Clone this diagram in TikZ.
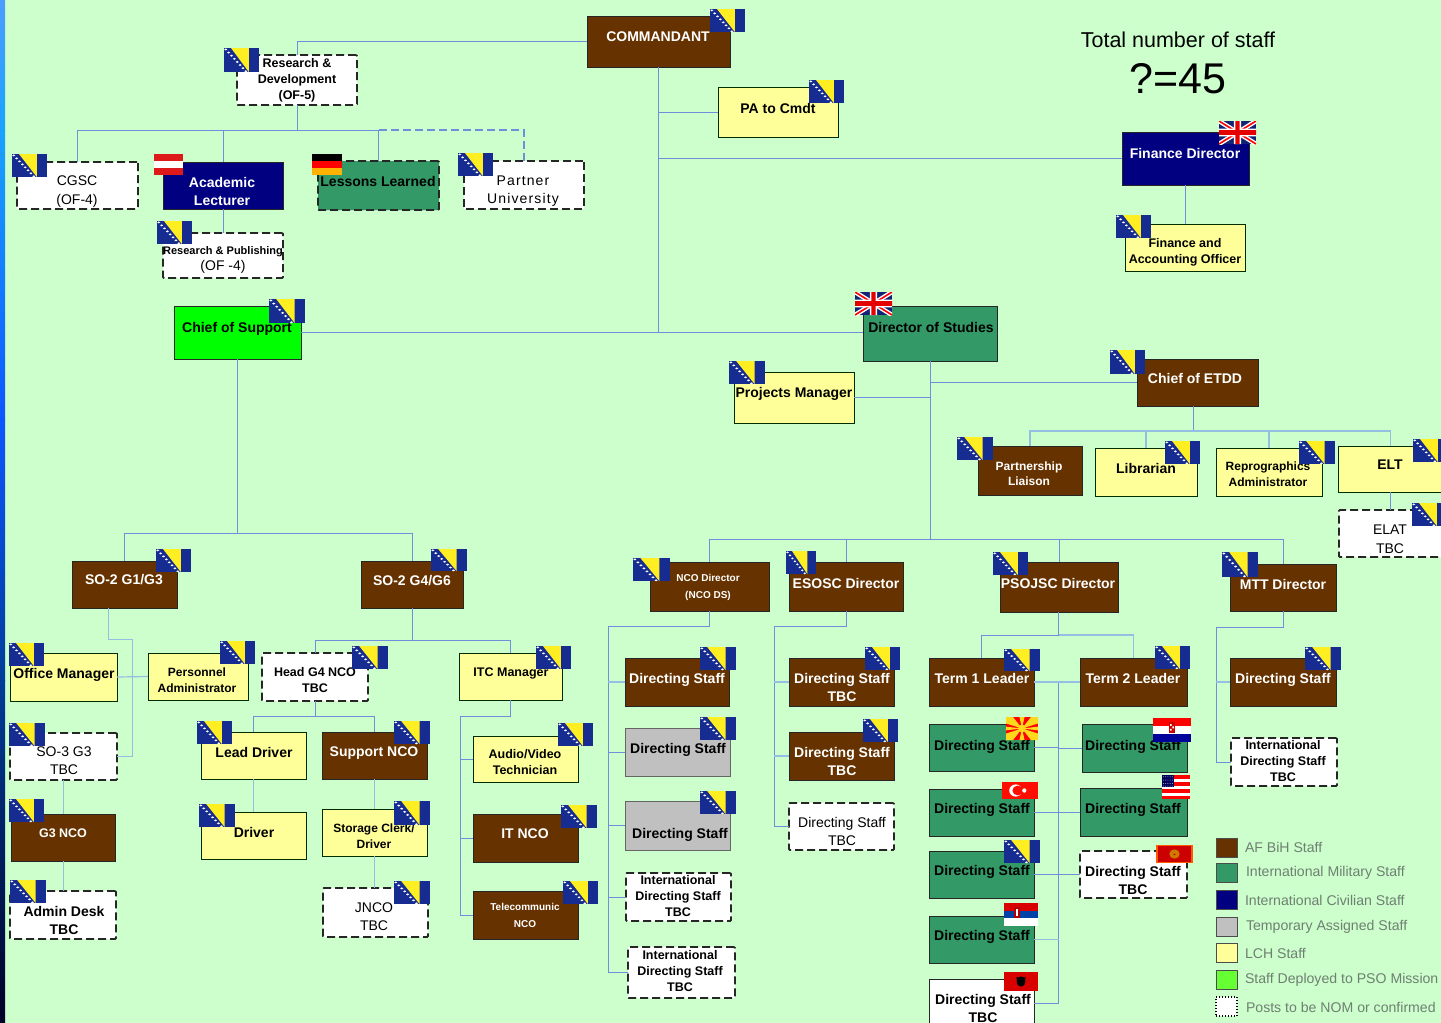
\documentclass[tikz,border=0pt]{standalone}
\usepackage{fontspec}
\setmainfont{Liberation Sans}
\usetikzlibrary{calc}
\definecolor{bgc}{HTML}{CCFFCC}
\definecolor{brownc}{HTML}{663300}
\definecolor{greenc}{HTML}{339966}
\definecolor{navyc}{HTML}{000080}
\definecolor{yellowc}{HTML}{FFFF99}
\definecolor{greyc}{HTML}{C0C0C0}
\definecolor{limec}{HTML}{00FF00}
\definecolor{linec}{HTML}{6E8FDC}
\definecolor{palelinec}{HTML}{94BFE2}
\definecolor{bablue}{HTML}{172C90}
\definecolor{bayellow}{HTML}{FFEE22}
\definecolor{legtext}{HTML}{6F7F72}
\tikzset{
 boxbase/.style={rectangle,inner sep=0pt,outer sep=0pt,draw=black!85,line width=1pt},
 brownbox/.style={boxbase,fill=brownc},
 greenbox/.style={boxbase,fill=greenc},
 navybox/.style={boxbase,fill=navyc},
 yellowbox/.style={boxbase,fill=yellowc,draw=black!70!green!60!black},
 greybox/.style={boxbase,fill=greyc,draw=black!60},
 limebox/.style={boxbase,fill=limec},
 whitebox/.style={boxbase,fill=white},
 dashbox/.style={boxbase,fill=white,line width=1.8pt,dash pattern=on 8pt off 4pt,rounded corners=1pt},
 greendash/.style={dashbox,fill=greenc},
 conn/.style={draw=linec,line width=1pt},
 paleconn/.style={draw=palelinec,line width=1.2pt},
 dashconn/.style={draw=linec,line width=1.2pt,dash pattern=on 8pt off 4pt},
 lab/.style={inner sep=0pt,outer sep=0pt,align=center,yshift=-1.5pt,font=\fontsize{14}{18}\selectfont\bfseries,
  execute at begin node={\vphantom{Ag}},execute at end node={\vphantom{Ag}}},
 labs/.style={lab,font=\fontsize{12.5}{16}\selectfont\bfseries},
 labt/.style={lab,font=\fontsize{10.5}{17}\selectfont\bfseries},
 labn/.style={lab,font=\fontsize{14}{18}\selectfont},
 legend/.style={inner sep=0pt,outer sep=0pt,anchor=west,text=legtext,font=\fontsize{14.1}{16}\selectfont},
 swatch/.style={rectangle,inner sep=0pt,outer sep=0pt,minimum width=21pt,minimum height=19pt,line width=1pt,draw=black!70},
}
\newcommand\bx[6]{\pgfmathsetmacro\bcx{(#2+#4)/2}\pgfmathsetmacro\bcy{(#3+#5)/2}%
 \pgfmathsetmacro\bw{#4-#2}\pgfmathsetmacro\bh{#5-#3}%
 \node[#6,minimum width=\bw pt,minimum height=\bh pt] (#1) at (\bcx,\bcy) {};}
\newcommand\tx[5]{\node[#4] (#1-t) at (#2,#3) {#5};}
\newcommand\flag[5]{\pgfmathsetmacro\fw{(#4-#2)/100}\pgfmathsetmacro\fh{(#5-#3)/100}%
 \begin{scope}[shift={(#2,#3)},xscale=\fw,yscale=\fh]\clip (0,0) rectangle (100,100);#1\end{scope}}
\newcommand\fBA{\fill[bablue] (0,0) rectangle (100,100);
 \fill[bayellow] (20,0) -- (71,0) -- (71,100) -- cycle;
 \foreach \q in {0,...,7}{\fill[white] ({5+\q*8.2},{6+\q*13}) circle[radius=4.3];}}
\newcommand\fUK{\fill[bablue!80!black] (0,0) rectangle (100,100);
 \draw[white,line width=4.5pt] (0,0) -- (100,100) (100,0) -- (0,100);
 \draw[red,line width=1.6pt] (0,0) -- (100,100) (100,0) -- (0,100);
 \fill[white] (40,0) rectangle (60,100) (0,33) rectangle (100,67);
 \fill[red!90!black] (44,0) rectangle (56,100) (0,40) rectangle (100,60);}
\newcommand\fAT{\fill[red!85!black!90] (0,0) rectangle (100,100);\fill[white] (0,33) rectangle (100,67);}
\newcommand\fDE{\fill[black] (0,0) rectangle (100,33.4);\fill[red] (0,33.4) rectangle (100,66.7);\fill[orange!60!yellow] (0,66.7) rectangle (100,100);}
\newcommand\fMK{\fill[red] (0,0) rectangle (100,100);
 \fill[bayellow!80!orange] (0,0) -- (22,0) -- (50,50) -- (0,28) -- cycle
  (100,0) -- (78,0) -- (50,50) -- (100,28) -- cycle
  (0,100) -- (22,100) -- (50,50) -- (0,72) -- cycle
  (100,100) -- (78,100) -- (50,50) -- (100,72) -- cycle
  (42,0) -- (58,0) -- (50,50) -- cycle (42,100) -- (58,100) -- (50,50) -- cycle
  (0,42) -- (0,58) -- (50,50) -- cycle (100,42) -- (100,58) -- (50,50) -- cycle;
 \fill[bayellow!80!orange] (50,50) ellipse[x radius=12,y radius=17];}
\newcommand\fHR{\fill[red] (0,0) rectangle (100,33);\fill[white] (0,33) rectangle (100,67);\fill[navyc!80!blue] (0,67) rectangle (100,100);
 \fill[red!80!black] (42,18) rectangle (58,62);\fill[white] (45,25) rectangle (49,33) (51,35) rectangle (55,43) (45,45) rectangle (49,53);}
\newcommand\fTR{\fill[red!90!orange] (0,0) rectangle (100,100);
 \fill[white] (38,50) ellipse[x radius=18,y radius=36];\fill[red!90!orange] (44,50) ellipse[x radius=15,y radius=29];\fill[white] (62,50) ellipse[x radius=6,y radius=13];}
\newcommand\fUS{\fill[white] (0,0) rectangle (100,100);
 \foreach \q in {0,2,4,6}{\fill[red] (0,{\q*15.4}) rectangle (100,{(\q+1)*15.4});}
 \fill[navyc!70!black] (0,0) rectangle (42,54);
 \foreach \a in {5,13,...,37}{\foreach \b in {8,22,36,48}{\fill[white] (\a,\b) circle[radius=1.6];}}}
\newcommand\fME{\fill[orange!70!red] (0,0) rectangle (100,100);\fill[red!80!black] (5,7) rectangle (95,93);
 \fill[orange!80!yellow!80!black] (50,50) ellipse[x radius=14,y radius=26];\fill[red!80!black] (50,52) circle[radius=4];}
\newcommand\fRS{\fill[red!85!black] (0,0) rectangle (100,33);\fill[blue!60!cyan!65!black] (0,33) rectangle (100,67);\fill[white] (0,67) rectangle (100,100);
 \fill[red!70!black] (30,18) rectangle (46,66);\fill[white] (35,28) rectangle (41,56);}
\newcommand\fAL{\fill[red!85!black] (0,0) rectangle (100,100);
 \fill[black] (50,50) ellipse[x radius=13,y radius=27];\fill[black] (36,28) -- (64,28) -- (58,66) -- (42,66) -- cycle;}
\begin{document}
\begin{tikzpicture}[x=1pt,y=-1pt]
\useasboundingbox (0,0) rectangle (1441,1023);
\clip (0,0) rectangle (1441,1023);
\fill[bgc] (0,0) rectangle (1441,1023);
% left strip
\shade[top color=blue!55!cyan!70!white,bottom color=cyan!60!blue!90] (0,0) rectangle (5,130);
\shade[top color=cyan!60!blue!90,bottom color=blue!70!cyan!95] (0,130) rectangle (5,420);
\shade[top color=blue!70!cyan!95,bottom color=blue!60!cyan!60!black] (0,420) rectangle (5,680);
\shade[top color=blue!60!cyan!60!black,bottom color=navyc!30!black] (0,680) rectangle (5,1023);
% boxes
\bx{cmd}{587}{16}{730}{67}{brownbox}
\bx{rd}{237}{55}{357}{105}{dashbox}
\bx{pa}{718}{87}{838}{137}{yellowbox}
\bx{fd}{1122}{132}{1249}{185}{navybox}
\bx{fa}{1125}{224}{1245}{271}{yellowbox}
\bx{cgsc}{17}{162}{138}{209}{dashbox}
\bx{acad}{163}{162}{283}{209}{navybox}
\bx{ll}{318}{161}{439}{210}{greendash}
\bx{partner}{464}{161}{584}{209}{dashbox}
\bx{rp}{163}{233}{283}{278}{dashbox}
\bx{cos}{174}{306}{301}{359}{limebox}
\bx{dos}{863}{306}{997}{361}{greenbox}
\bx{proj}{734}{372}{854}{423}{yellowbox}
\bx{etdd}{1137}{359}{1258}{406}{brownbox}
\bx{pl}{978}{446}{1082}{495}{brownbox}
\bx{lib}{1095}{448}{1197}{496}{yellowbox}
\bx{rep}{1216}{448}{1322}{496}{yellowbox}
\bx{elt}{1338}{446}{1443}{492}{yellowbox}
\bx{elat}{1339}{510}{1443}{557}{dashbox}
\bx{gone}{72}{561}{177}{608}{brownbox}
\bx{gfour}{361}{561}{463}{608}{brownbox}
\bx{ncod}{650}{562}{769}{611}{brownbox}
\bx{esosc}{789}{562}{903}{611}{brownbox}
\bx{psojsc}{1000}{562}{1118}{612}{brownbox}
\bx{mtt}{1230}{564}{1336}{611}{brownbox}
\bx{om}{10}{653}{117}{701}{yellowbox}
\bx{pers}{148}{653}{248}{700}{yellowbox}
\bx{head}{262}{653}{368}{701}{dashbox}
\bx{itc}{459}{653}{562}{700}{yellowbox}
\bx{sothree}{10}{733}{117}{780}{dashbox}
\bx{gthree}{11}{814}{115}{861}{brownbox}
\bx{admin}{10}{891}{116}{939}{dashbox}
\bx{lead}{201}{732}{306}{779}{yellowbox}
\bx{sup}{322}{732}{427}{779}{brownbox}
\bx{drv}{201}{812}{306}{859}{yellowbox}
\bx{stor}{322}{809}{427}{856}{yellowbox}
\bx{jnco}{323}{888}{428}{937}{dashbox}
\bx{av}{473}{736}{578}{782}{yellowbox}
\bx{itn}{473}{814}{578}{862}{brownbox}
\bx{tel}{473}{891}{578}{939}{brownbox}
\bx{na}{625}{658}{729}{706}{brownbox}
\bx{nb}{625}{728}{730}{776}{greybox}
\bx{nc}{625}{801}{730}{850}{greybox}
\bx{nd}{626}{873}{731}{921}{dashbox}
\bx{ne}{628}{947}{735}{998}{dashbox}
\bx{ea}{789}{658}{894}{706}{brownbox}
\bx{eb}{789}{732}{894}{780}{brownbox}
\bx{ec}{789}{803}{894}{850}{dashbox}
\bx{tone}{929}{658}{1034}{706}{brownbox}
\bx{ttwo}{1080}{658}{1187}{706}{brownbox}
\bx{mk}{929}{724}{1034}{771}{greenbox}
\bx{hr}{1082}{724}{1187}{772}{greenbox}
\bx{tr}{929}{789}{1034}{836}{greenbox}
\bx{us}{1080}{788}{1187}{836}{greenbox}
\bx{ba}{929}{851}{1034}{898}{greenbox}
\bx{me}{1080}{851}{1187}{898}{dashbox}
\bx{rs}{929}{916}{1034}{963}{greenbox}
\bx{al}{929}{979}{1034}{1035}{whitebox}
\bx{ma}{1230}{658}{1336}{706}{brownbox}
\bx{mb}{1231}{738}{1337}{786}{dashbox}
% junctions
\coordinate (rdbus) at (297,130);
\coordinate (cmdtrunk) at (658.5,333);
\coordinate (cosbus) at (237.5,533);
\coordinate (etddbus) at (1193.5,431);
\coordinate (dosbus) at (930,539);
\coordinate (gonebus) at (132,639);
\coordinate (gfourbus) at (412,640);
\coordinate (headbus) at (315,716.5);
\coordinate (itcbus) at (460,716.5);
\coordinate (ncobus) at (608,626.5);
\coordinate (esbus) at (774,626.5);
\coordinate (psbus) at (1058.5,635);
\coordinate (pstop) at (1058.5,682);
\coordinate (psend) at (1058.5,1003);
\coordinate (mbus) at (1216,627);
% connectors
\draw[conn] (cmd.west) -| (rd.north);
\draw[conn] (rd.south) -- (rdbus);
\draw[conn] (rdbus) -| (cgsc.north);
\draw[conn] (rdbus) -| (acad.north);
\draw[conn] (rdbus) -| (ll.north);
\draw[dashconn] (ll.north |- rdbus) -| (partner.north);
\draw[conn] (acad.south) -- (rp.north);
\draw[conn] (cmd.south) -- (cmdtrunk);
\draw[conn] (pa.west) -- (pa.west -| cmdtrunk);
\draw[conn] (fd.west) -- (fd.west -| cmdtrunk);
\draw[conn] (fa.north) -- (fa.north |- fd.south);
\draw[conn] (cos.east) -- (cos.east -| dos.west);
\draw[conn] (cos.south) -- (cosbus);
\draw[conn] (cosbus) -| (gone.north);
\draw[conn] (cosbus) -| (gfour.north);
\draw[conn] (dos.south) -- (dosbus);
\draw[conn] (etdd.west) -- (etdd.west -| dosbus);
\draw[conn] (proj.east) -- (proj.east -| dosbus);
\draw[conn] (dosbus) -| (ncod.north);
\draw[conn] (dosbus) -| (esosc.north);
\draw[conn] (dosbus) -| (psojsc.north);
\draw[conn] (dosbus) -| (mtt.north);
\draw[conn] (etddbus |- etdd.south) -- (etddbus);
\draw[paleconn] (etddbus) -| (pl.north);
\draw[paleconn] (etddbus) -| (lib.north);
\draw[paleconn] (etddbus) -| (rep.north);
\draw[paleconn] (etddbus) -| (elt.north);
\draw[conn] (elt.south) -- (elt.south |- elat.north);
% left column
\draw[paleconn,line width=1pt] ($(gone.south west)!.35!(gone.south east)$) |- (gonebus) |- (sothree.east);
\draw[paleconn] (om.east) -- (pers.west);
\draw[paleconn,line width=1pt] (sothree.south) -- (sothree.south |- gthree.north);
\draw[paleconn,line width=1pt] (gthree.south) -- (gthree.south |- admin.north);
\draw[conn] (gfour.south) -- (gfourbus);
\draw[conn] (gfourbus) -| (head.north);
\draw[conn] (gfourbus) -| (itc.north);
\draw[conn] (head.south) -- (headbus);
\draw[conn] (headbus) -| (lead.north);
\draw[conn] (headbus) -| (sup.north);
\draw[paleconn,line width=1pt] (lead.south) -- (drv.north);
\draw[paleconn,line width=1pt] (sup.south) -- (stor.north);
\draw[paleconn,line width=1pt] (stor.south) -- (stor.south |- jnco.north);
\draw[conn] (itc.south) |- (itcbus) |- (tel.west);
\draw[conn] (av.west) -- (av.west -| itcbus);
\draw[conn] (itn.west) -- (itn.west -| itcbus);
% NCO and ESOSC branches
\draw[conn] (ncod.south) |- (ncobus) |- (ne.west);
\draw[paleconn] (na.west) -- (na.west -| ncobus);
\draw[conn] (nb.west) -- (nb.west -| ncobus);
\draw[conn] (nc.west) -- (nc.west -| ncobus);
\draw[conn] (nd.west) -- (nd.west -| ncobus);
\draw[conn] (esosc.south) |- (esbus) |- (ec.west);
\draw[paleconn] (ea.west) -- (ea.west -| esbus);
\draw[paleconn] (eb.west) -- (eb.west -| esbus);
% PSOJSC
\draw[conn] (psbus |- psojsc.south) -- (psbus);
\draw[conn] (psbus) -| (tone.north);
\draw[paleconn] (psbus) -| (ttwo.north);
\draw[conn] (pstop) -- (psend);
\draw[paleconn] (tone.east) -- (tone.east -| ttwo.west);
\draw[conn] (mk.east) -- (mk.east -| psend);
\draw[conn] (hr.west) -- (hr.west -| psend);
\draw[conn] (tr.east) -- (tr.east -| us.west);
\draw[conn] (ba.east) -- (ba.east -| me.west);
\draw[paleconn] (rs.east) -- (rs.east -| psend);
\draw[conn] (psend -| al.east) -- (psend);
% MTT
\draw[conn] (mtt.south) |- (mbus);
\draw[conn] (mbus) |- (mb.west);
\draw[paleconn] (ma.west) -- (ma.west -| mbus);
% texts
\tx{cmd}{658}{37}{lab,text=white}{COMMANDANT}
\tx{rd}{297}{79}{labs}{Research \&\\Development\\(OF-5)}
\tx{pa}{778}{108}{lab}{PA to Cmdt}
\tx{fd}{1185}{153}{lab,text=white}{Finance Director}
\tx{fa}{1185}{250.5}{labs}{Finance and\\Accounting Officer}
\tx{cgsc}{77}{190.5}{labn,font=\fontsize{14}{19}\selectfont}{CGSC\\(OF-4)}
\tx{acad}{222}{191}{lab,text=white}{Academic\\Lecturer}
\tx{ll}{378}{181}{lab}{Lessons Learned}
\tx{partner}{523}{190}{labn,font=\fontsize{14}{18}\selectfont\addfontfeature{LetterSpace=8}}{Partner\\University}
\tx{rpa}{223}{250}{labt,font=\fontsize{11}{13}\selectfont\bfseries}{Research \& Publishing}
\tx{rpb}{223}{265.5}{labn}{(OF -4)}
\tx{cos}{237}{327}{lab}{Chief of Support}
\tx{dos}{931}{327}{lab}{Director of Studies}
\tx{proj}{794}{392}{lab}{Projects Manager}
\tx{etdd}{1195}{378}{lab,text=white}{Chief of ETDD}
\tx{pl}{1029}{473}{labs,text=white,font=\fontsize{12}{15}\selectfont\bfseries}{Partnership\\Liaison}
\tx{lib}{1146}{468}{lab}{Librarian}
\tx{rep}{1268}{474}{labs,font=\fontsize{12}{16}\selectfont\bfseries}{Reprographics\\Administrator}
\tx{elt}{1390}{465}{lab}{ELT}
\tx{elat}{1390}{539}{labn,font=\fontsize{14}{19}\selectfont}{ELAT\\TBC}
\tx{gone}{124}{579}{lab,text=white}{SO-2 G1/G3}
\tx{gfour}{412}{580}{lab,text=white}{SO-2 G4/G6}
\tx{ncod}{708}{585.5}{labt,text=white,font=\fontsize{10}{17}\selectfont\bfseries}{NCO Director\\(NCO DS)}
\tx{esosc}{846}{583}{lab,text=white}{ESOSC Director}
\tx{psojsc}{1058}{583}{lab,text=white}{PSOJSC Director}
\tx{mtt}{1283}{584}{lab,text=white}{MTT Director}
\tx{om}{64}{673}{lab}{Office Manager}
\tx{pers}{197}{680}{labs,font=\fontsize{12}{16}\selectfont\bfseries}{Personnel\\Administrator}
\tx{head}{315}{680}{labs}{Head G4 NCO\\TBC}
\tx{itc}{511}{672}{labs}{ITC Manager}
\tx{sothree}{64}{761}{labn}{SO-3 G3\\TBC}
\tx{gthree}{63}{833}{labs,text=white}{G3 NCO}
\tx{admin}{64}{920}{lab}{Admin Desk\\TBC}
\tx{lead}{254}{752}{lab}{Lead Driver}
\tx{sup}{374}{752}{lab,text=white}{Support NCO}
\tx{drv}{254}{832}{lab}{Driver}
\tx{stor}{374}{836}{labs,font=\fontsize{12}{16}\selectfont\bfseries}{Storage Clerk/\\Driver}
\tx{jnco}{374}{917}{labn}{JNCO\\TBC}
\tx{av}{525}{762}{labs}{Audio/Video\\Technician}
\tx{itn}{525}{834}{lab,text=white}{IT NCO}
\tx{tel}{525}{914.5}{labt,text=white,font=\fontsize{10}{17}\selectfont\bfseries}{Telecommunic\\NCO}
\tx{na}{677}{678}{lab,text=white}{Directing Staff}
\tx{nb}{678}{748}{lab}{Directing Staff}
\tx{nc}{680}{833}{lab}{Directing Staff}
\tx{nd}{678}{896}{labs}{International\\Directing Staff\\TBC}
\tx{ne}{680}{971}{labs}{International\\Directing Staff\\TBC}
\tx{ea}{842}{687}{lab,text=white}{Directing Staff\\TBC}
\tx{eb}{842}{761}{lab,text=white}{Directing Staff\\TBC}
\tx{ec}{842}{831}{labn}{Directing Staff\\TBC}
\tx{tone}{982}{678}{lab,text=white}{Term 1 Leader}
\tx{ttwo}{1133}{678}{lab,text=white}{Term 2 Leader}
\tx{mk}{982}{745}{lab}{Directing Staff}
\tx{hr}{1133}{745}{lab}{Directing Staff}
\tx{tr}{982}{808}{lab}{Directing Staff}
\tx{us}{1133}{808}{lab}{Directing Staff}
\tx{ba}{982}{870}{lab}{Directing Staff}
\tx{me}{1133}{880}{lab}{Directing Staff\\TBC}
\tx{rs}{982}{935}{lab}{Directing Staff}
\tx{al}{983}{1008}{lab}{Directing Staff\\TBC}
\tx{ma}{1283}{678}{lab,text=white}{Directing Staff}
\tx{mb}{1283}{761}{labs}{International\\Directing Staff\\TBC}
% heading
\node[inner sep=0pt,font=\fontsize{21.5}{26}\selectfont] (total) at (1178,40) {Total number of staff};
\node[inner sep=0pt,font=\fontsize{43}{46}\selectfont] (count) at (1178,79) {?=45};
% legend
\node[swatch,fill=brownc] (l1) at (1226.5,847.5) {};
\node[swatch,fill=greenc] (l2) at (1226.5,872.5) {};
\node[swatch,fill=navyc] (l3) at (1226.5,899.5) {};
\node[swatch,fill=greyc] (l4) at (1226.5,926.5) {};
\node[swatch,fill=yellowc] (l5) at (1226.5,952.5) {};
\node[swatch,fill={rgb,255:red,102;green,255;blue,51}] (l6) at (1226.5,979.5) {};
\node[swatch,fill=white,dotted,draw=black,line width=1.2pt] (l7) at (1226.5,1006.5) {};
\node[legend] (lt1) at (1245,847) {AF BiH Staff};
\node[legend] (lt2) at (1246,873) {International Military Staff};
\node[legend] (lt3) at (1245,900) {International Civilian Staff};
\node[legend] (lt4) at (1246,927) {Temporary Assigned Staff};
\node[legend] (lt5) at (1245,953) {LCH Staff};
\node[legend] (lt6) at (1245,980) {Staff Deployed to PSO Mission};
\node[legend] (lt7) at (1246,1007) {Posts to be NOM or confirmed};
% flags
\flag{\fBA}{710}{9}{745}{32}
\flag{\fBA}{224}{48}{259}{72}
\flag{\fBA}{809}{80}{844}{103}
\flag{\fUK}{1219}{121}{1256}{144}
\flag{\fBA}{1116}{215}{1151}{238}
\flag{\fBA}{12}{154}{47}{177}
\flag{\fAT}{154}{154}{183}{175}
\flag{\fDE}{312}{154}{342}{175}
\flag{\fBA}{458}{153}{493}{176}
\flag{\fBA}{157}{221}{192}{244}
\flag{\fBA}{269}{299}{305}{323}
\flag{\fUK}{855}{292}{892}{315}
\flag{\fBA}{729}{361}{765}{384}
\flag{\fBA}{1110}{350}{1145}{374}
\flag{\fBA}{957}{437}{993}{460}
\flag{\fBA}{1165}{441}{1200}{464}
\flag{\fBA}{1299}{441}{1335}{464}
\flag{\fBA}{1413}{439}{1448}{462}
\flag{\fBA}{1412}{503}{1447}{526}
\flag{\fBA}{156}{549}{191}{572}
\flag{\fBA}{431}{549}{467}{571}
\flag{\fBA}{633}{558}{670}{581}
\flag{\fBA}{786}{551}{816}{574}
\flag{\fBA}{993}{552}{1028}{575}
\flag{\fBA}{1222}{552}{1258}{577}
\flag{\fBA}{9}{643}{44}{666}
\flag{\fBA}{220}{641}{255}{664}
\flag{\fBA}{352}{646}{388}{669}
\flag{\fBA}{536}{646}{571}{669}
\flag{\fBA}{9}{723}{45}{746}
\flag{\fBA}{197}{721}{232}{744}
\flag{\fBA}{394}{721}{430}{744}
\flag{\fBA}{558}{723}{593}{746}
\flag{\fBA}{9}{799}{44}{822}
\flag{\fBA}{199}{804}{235}{827}
\flag{\fBA}{394}{801}{430}{825}
\flag{\fBA}{561}{805}{597}{828}
\flag{\fBA}{10}{880}{46}{903}
\flag{\fBA}{394}{881}{430}{904}
\flag{\fBA}{563}{881}{598}{904}
\flag{\fBA}{700}{647}{736}{670}
\flag{\fBA}{700}{717}{736}{740}
\flag{\fBA}{700}{791}{736}{814}
\flag{\fBA}{865}{647}{900}{670}
\flag{\fBA}{863}{719}{898}{742}
\flag{\fBA}{1004}{649}{1040}{671}
\flag{\fBA}{1155}{646}{1190}{669}
\flag{\fMK}{1006}{717}{1038}{740}
\flag{\fHR}{1153}{718}{1191}{742}
\flag{\fTR}{1002}{782}{1038}{799}
\flag{\fUS}{1162}{775}{1190}{798}
\flag{\fBA}{1004}{840}{1040}{863}
\flag{\fME}{1156}{845}{1193}{863}
\flag{\fRS}{1004}{903}{1038}{926}
\flag{\fAL}{1004}{972}{1038}{991}
\flag{\fBA}{1305}{647}{1341}{670}
\end{tikzpicture}
\end{document}
